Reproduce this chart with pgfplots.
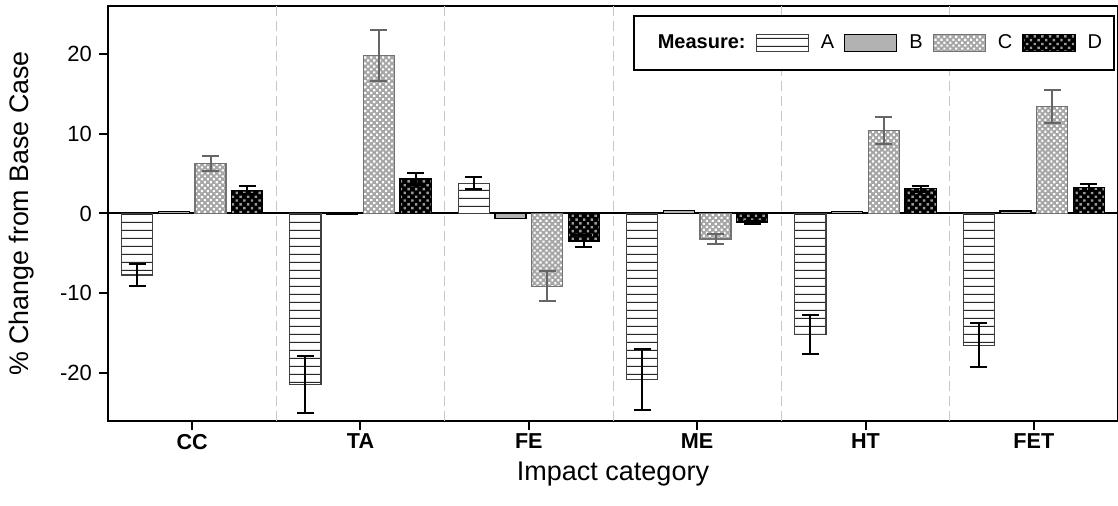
\documentclass[border=0pt]{standalone}
\usepackage{fontspec}
\setmainfont{Liberation Sans}
\usepackage{pgfplots}
\pgfplotsset{compat=1.18}
\usepackage{pgfplotstable}
\usetikzlibrary{patterns,patterns.meta}

\pgfdeclarepatternformonly{hlinesA}{\pgfpoint{0pt}{0pt}}{\pgfpoint{200pt}{4pt}}{\pgfpoint{200pt}{4pt}}{%
  \pgfsetlinewidth{0.55pt}%
  \pgfpathmoveto{\pgfpoint{-1pt}{2pt}}%
  \pgfpathlineto{\pgfpoint{201pt}{2pt}}%
  \pgfusepath{stroke}}

\pgfplotstableread{
x y e
0 -7.7 1.4
1 -21.4 3.6
2 3.8 0.75
3 -20.8 3.85
4 -15.2 2.45
5 -16.5 2.75
}\dataA
\pgfplotstableread{
x y
0 0.2
1 -0.1
2 -0.6
3 0.4
4 0.2
5 0.3
}\dataB
\pgfplotstableread{
x y e
0 6.3 0.95
1 19.8 3.15
2 -9.1 1.9
3 -3.2 0.6
4 10.4 1.65
5 13.4 2.1
}\dataC
\pgfplotstableread{
x y e
0 2.9 0.5
1 4.35 0.75
2 -3.45 0.7
3 -1.15 0.15
4 3.1 0.35
5 3.25 0.4
}\dataD

\begin{document}
\begin{tikzpicture}
\begin{axis}[
  scale only axis, width=505pt, height=207.5pt,
  xmin=-0.5, xmax=5.5, ymin=-26, ymax=26,
  ybar, bar width=0.185,
  xtick={0,...,5}, xticklabels={CC,TA,FE,ME,HT,FET},
  ytick={-20,-10,0,10,20}, yticklabels={-20,-10,0,10,20},
  tick align=outside, tick pos=left, major tick length=4.5pt,
  every tick/.style={black, line width=1pt},
  axis line style={line width=1pt},
  extra x ticks={0.5,1.5,2.5,3.5,4.5}, extra x tick labels={},
  extra x tick style={grid=major, major grid style={black!22, line width=0.5pt, dash pattern=on 5pt off 2.5pt}, major tick length=0pt},
  extra y ticks={0}, extra y tick labels={},
  extra y tick style={grid=major, major grid style={black, line width=1pt}, major tick length=0pt},
  xticklabel style={font=\fontsize{10.8}{13}\selectfont\bfseries, yshift=1.5pt},
  yticklabel style={font=\fontsize{11}{13}\selectfont},
  xlabel={Impact category}, ylabel={\% Change from Base Case},
  xlabel style={font=\fontsize{13.5}{16}\selectfont, at={(axis description cs:0.5,-0.127)}, anchor=center},
  ylabel style={font=\fontsize{13.4}{16}\selectfont, at={(axis description cs:-0.0851,0.5)}, anchor=center},
  legend columns=-1,
  legend style={at={(1,1)}, anchor=north east, xshift=-1.5pt, yshift=-4.5pt, draw=black, line width=1pt,
    font=\fontsize{10}{12}\selectfont, inner xsep=6pt, inner ysep=9pt,
    nodes={inner sep=0pt, anchor=west},
    /tikz/every odd column/.append style={column sep=6pt},
    /tikz/every even column/.append style={column sep=5pt}},
  legend image code/.code={\draw[#1, line width=0.6pt] (0pt,-4.25pt) rectangle (26pt,4.25pt);},
]
\addlegendimage{empty legend}
\addlegendentry{\textbf{Measure:}}

\addplot[fill=white, draw=black!75, line width=0.6pt, bar shift=-0.327,
  postaction={pattern color=black!85, pattern=hlinesA},
  error bars/.cd, y dir=both, y explicit,
  error bar style={line width=1pt, black, solid},
  error mark options={rotate=90, mark size=4.3pt, line width=1pt, black}]
  table[x=x, y=y, y error=e] {\dataA};
\addlegendentry{A}

\addplot[fill=black!30, draw=black, line width=0.6pt, bar shift=-0.109]
  table[x=x, y=y] {\dataB};
\addlegendentry{B}

\addplot[fill=black!35, draw=black!55, line width=0.6pt, bar shift=0.109,
  postaction={pattern color=white, pattern={Dots[distance=2.1pt,radius=0.75pt,angle=45]}},
  error bars/.cd, y dir=both, y explicit,
  error bar style={line width=1pt, black!60, solid},
  error mark options={rotate=90, mark size=4.3pt, line width=1pt, black!60}]
  table[x=x, y=y, y error=e] {\dataC};
\addlegendentry{C}

\addplot[fill=black, draw=black, line width=0.6pt, bar shift=0.327,
  postaction={pattern color=black!40, pattern={Dots[distance=2.7pt,radius=0.85pt,angle=45]}},
  error bars/.cd, y dir=both, y explicit,
  error bar style={line width=1pt, black, solid},
  error mark options={rotate=90, mark size=4.3pt, line width=1pt, black}]
  table[x=x, y=y, y error=e] {\dataD};
\addlegendentry{D}
\end{axis}
\pgfresetboundingbox
\path ([xshift=-54pt,yshift=-42.5pt]current axis.south west) rectangle ([yshift=3pt]current axis.north east);
\end{tikzpicture}
\end{document}
